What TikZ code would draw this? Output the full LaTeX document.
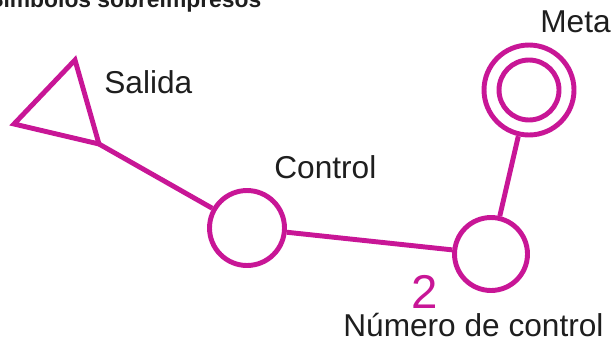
\documentclass[tikz,border=0pt]{standalone}
\usepackage{fontspec}
\setmainfont{Liberation Sans}
\definecolor{mag}{RGB}{200,22,150}
\definecolor{txt}{RGB}{30,30,30}
\tikzset{%
    sym/.style={line width=2.8pt, draw=mag},
    cir/.style={circle, sym, fill=white, inner sep=0pt, minimum size=1.5cm},
    lab/.style={text=txt, font=\fontsize{18}{20}\selectfont, inner sep=0pt, anchor=base west},
    tit/.style={text=txt, font=\bfseries\fontsize{13}{15}\selectfont, inner sep=0pt, anchor=base west},
}

\begin{document}
\begin{tikzpicture}[x=0.02cm,y=-0.02cm]
    \useasboundingbox (0,0) rectangle (611,345);
    \node[tit] (titulo) at (-12,7) {Símbolos sobreimpresos};
    \coordinate (s1) at (75,60);
    \coordinate (s2) at (14,124);
    \coordinate (s3) at (99,144);
    \node[cir] (control) at (247,228) {};
    \node[cir, minimum size=1.46cm] (numero) at (491,254) {};
    \node[cir, minimum size=1.8cm] (meta) at (529,90) {};
    \node[cir, minimum size=1.2cm] (metain) at (meta) {};
    \draw [sym] (s1) -- (s2) -- (s3) -- cycle;
    \draw [sym] (s3) -- (control);
    \draw [sym] (control) -- (numero);
    \draw [sym] (meta) -- (numero);
    \node[lab] (salida) at (104,93) {Salida};
    \node[lab] (ctrl) at (274,178) {Control};
    \node[lab] (metalab) at (540,32) {Meta};
    \node[lab] (numlab) at (343,336) {Número de control};
    \node[lab, anchor=base, text=mag, font=\fontsize{27}{30}\selectfont] (num) at (425,308) {2};
\end{tikzpicture}
\end{document}
